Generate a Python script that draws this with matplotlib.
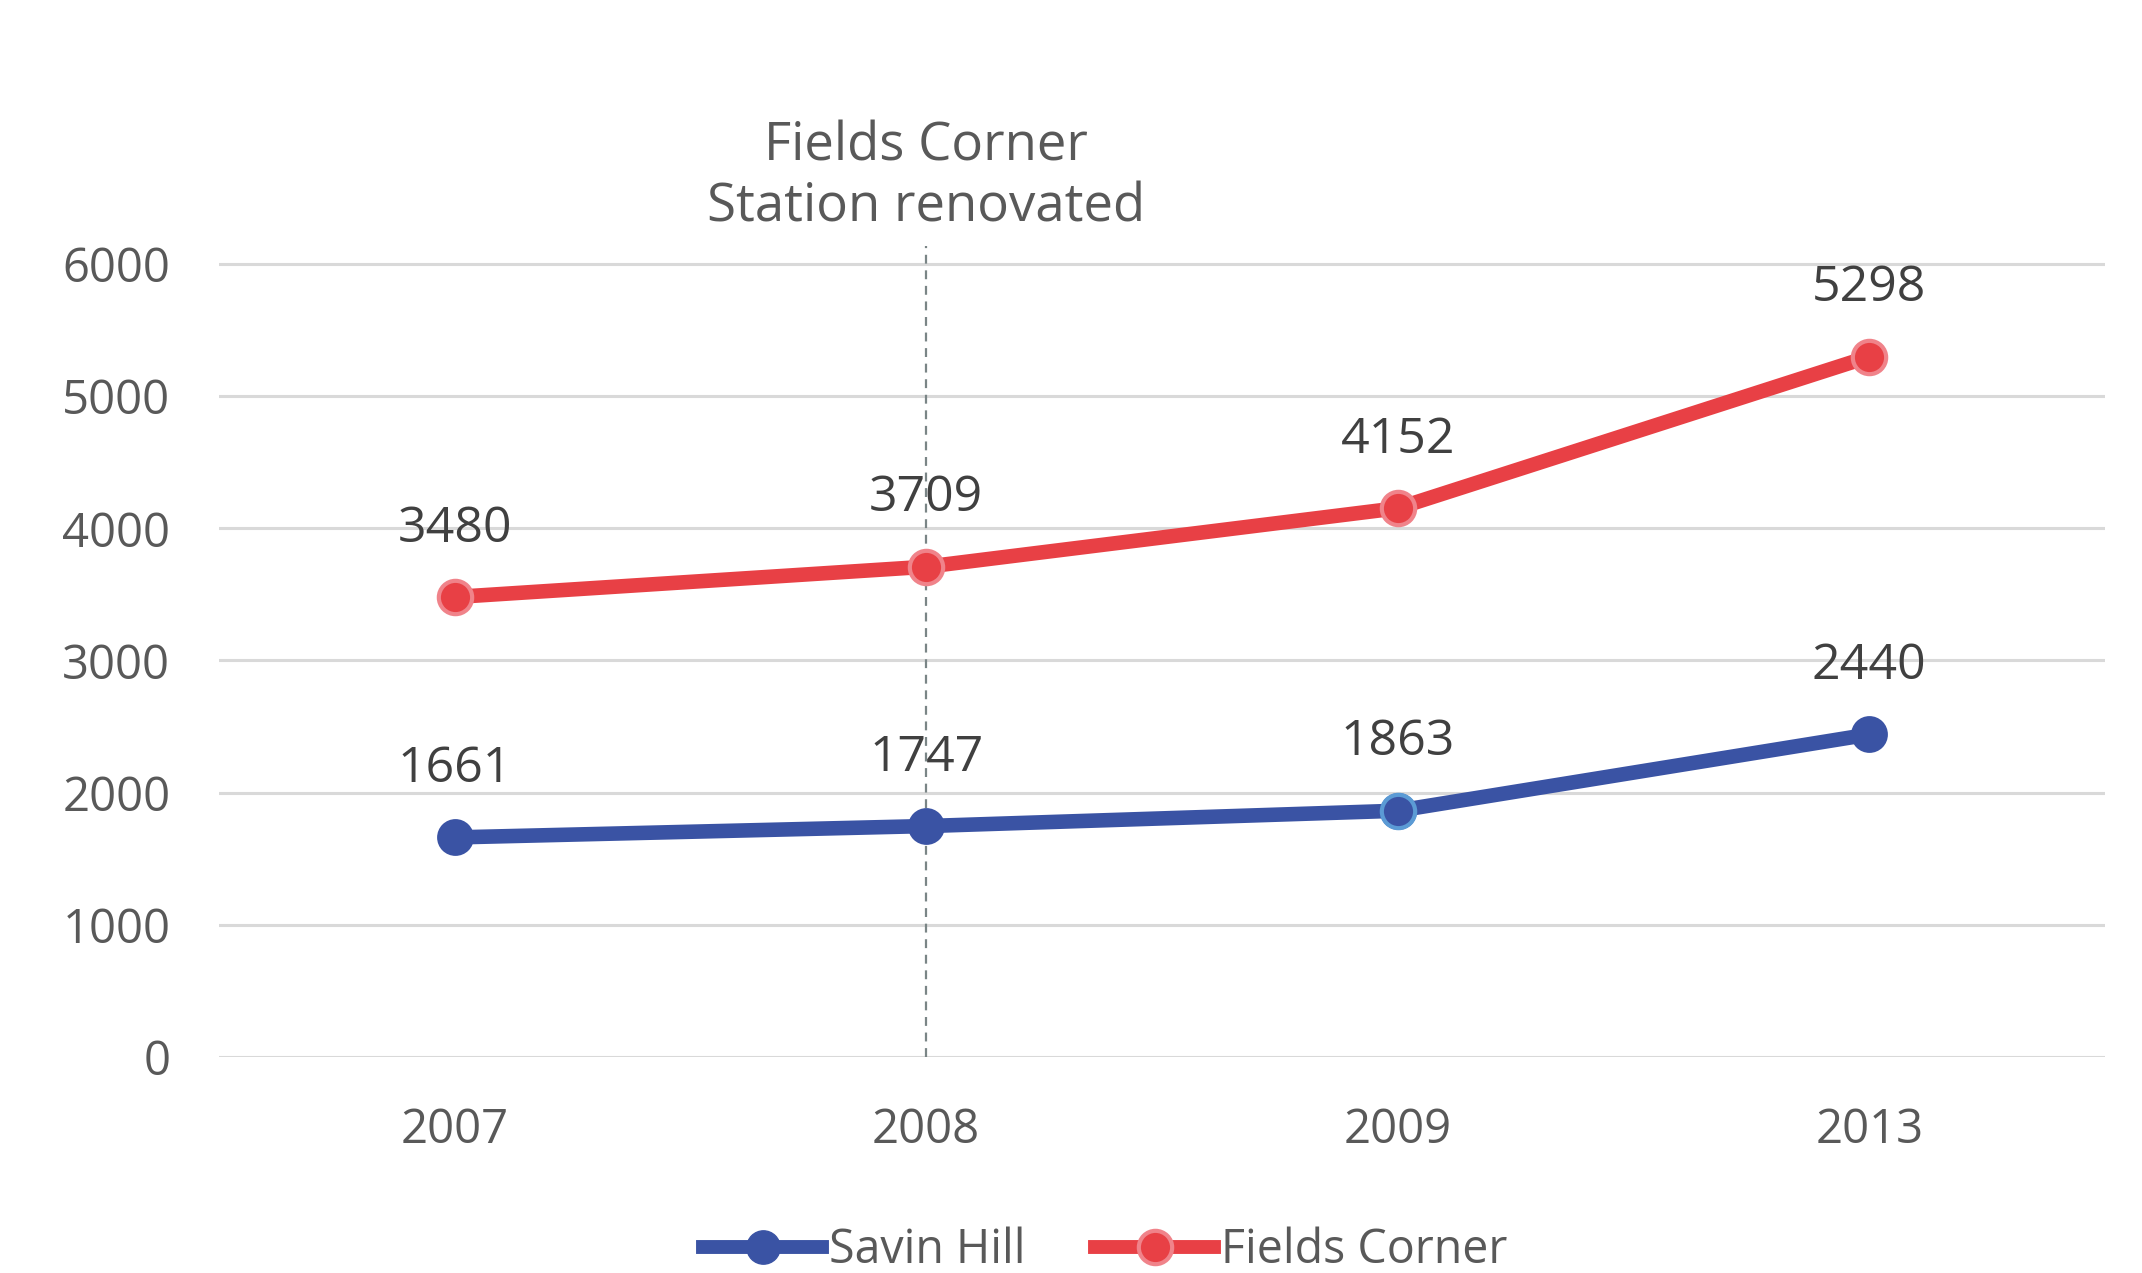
import matplotlib
matplotlib.use("Agg")
import matplotlib.pyplot as plt
from matplotlib.lines import Line2D

plt.rcParams['font.family'] = ['Open Sans', 'DejaVu Sans']

years = ["2007", "2008", "2009", "2013"]
savin_hill = [1661, 1747, 1863, 2440]
fields_corner = [3480, 3709, 4152, 5298]
y_ticks = [0, 1000, 2000, 3000, 4000, 5000, 6000]

blue = "#3A53A4"
red = "#E84045"
x = list(range(len(years)))

fig = plt.figure(figsize=(21.42, 12.73), dpi=100)
ax = fig.add_axes([0.1022, 0.1697, 0.8805, 0.6371])

# gridlines
for t in y_ticks:
    ax.axhline(t, color="#D9D9D9", lw=2.2, zorder=0)

# renovation marker
ax.axvline(1, color="#7A8586", lw=1.6, ls=(0, (4, 3)), zorder=1)
ax.text(1, 6655, "Fields Corner\nStation renovated", ha="center", va="center",
        fontsize=38, color="#595959", linespacing=1.2)

ax.plot(x, savin_hill, color=blue, lw=10.5, marker="o", ms=24,
        mec=blue, mew=2.5, zorder=3, solid_capstyle="round")
# 2009 point has a lighter edge
ax.plot([x[2]], [savin_hill[2]], ls="none", marker="o", ms=24, color=blue,
        mec="#5B9BD5", mew=3, zorder=4)
ax.plot(x, fields_corner, color=red, lw=10.5, marker="o", ms=24,
        mec="#F0838A", mew=3, zorder=3, solid_capstyle="round")

for xi, v in zip(x, savin_hill):
    ax.annotate(str(v), (xi, v), xytext=(0, 49), textcoords="offset points",
                ha="center", va="center", fontsize=36, color="#404040")
for xi, v in zip(x, fields_corner):
    ax.annotate(str(v), (xi, v), xytext=(0, 49), textcoords="offset points",
                ha="center", va="center", fontsize=36, color="#404040")

ax.set_xlim(-0.5, 3.5)
ax.set_ylim(0, 6136)
ax.set_xticks(x)
ax.set_xticklabels(years)
ax.set_yticks(y_ticks)
ax.tick_params(axis="both", length=0, labelsize=34, labelcolor="#595959")
ax.tick_params(axis="x", pad=36)
ax.tick_params(axis="y", pad=35)
for s in ax.spines.values():
    s.set_visible(False)

handles = [
    Line2D([], [], color=blue, lw=10, marker="o", ms=24, mec=blue),
    Line2D([], [], color=red, lw=10, marker="o", ms=24, mec="#F0838A", mew=3),
]
fig.legend(handles, ["Savin Hill", "Fields Corner"], loc="center",
           bbox_to_anchor=(0.516, 0.018), ncol=2, frameon=False, fontsize=33.5,
           labelcolor="#595959", handlelength=2.55, handletextpad=0.15,
           columnspacing=1.5)

fig.savefig("out.png", dpi=100)
